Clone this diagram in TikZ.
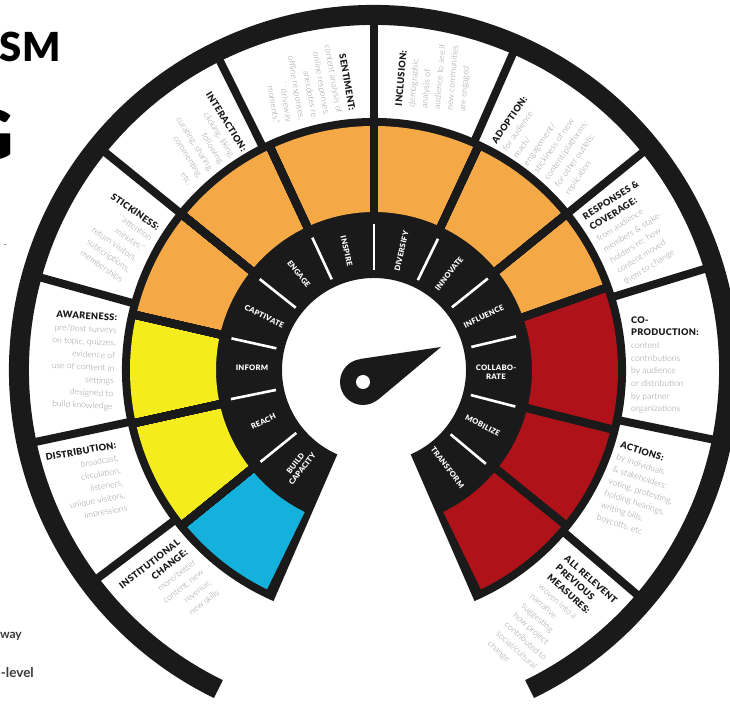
\documentclass[tikz,border=0pt]{standalone}
\usepackage{fontspec}
\setmainfont{Lato}
\IfFontExistsTF{Lato Black}{\newfontfamily\headfont{Lato Black}[LetterSpace=3]}{\newcommand\headfont{\bfseries}}
\IfFontExistsTF{Lato Light}{\newfontfamily\lightfont{Lato Light}}{\newcommand\lightfont{\mdseries}}
\usepackage{tikz}
\usetikzlibrary{calc}
\definecolor{imorange}{HTML}{F4A846}
\definecolor{imyellow}{HTML}{F5EC1E}
\definecolor{imcyan}{HTML}{14B1DC}
\definecolor{imred}{HTML}{B01219}
\definecolor{imblack}{HTML}{1A1A1A}
\definecolor{imgray}{HTML}{969696}
\definecolor{imdark}{HTML}{3A3A3A}
% ring piece: colour, start angle, end angle, inner radius, outer radius
\newcommand\ringsector[5]{\fill[#1] ($(c)+(#2:#4)$) arc[start angle=#2, end angle=#3, radius=#4] -- ($(c)+(#3:#5)$) arc[start angle=#3, end angle=#2, radius=#5] -- cycle;}
\newcommand\mhead[1]{{\color{imblack}\headfont\fontsize{9.2}{12.7}\selectfont #1}}

\begin{document}
\begin{tikzpicture}[
  x=1pt, y=1pt,
  spoke/.style={draw=imblack, line width=8pt},
  tick/.style={draw=white, line width=2.6pt},
  gaugelab/.style={text=white, font=\headfont\fontsize{7.6}{8.6}\selectfont, align=center, inner sep=0pt},
  measure/.style={text=imgray, font=\lightfont\fontsize{8.6}{12.7}\selectfont, inner sep=0pt},
  leftm/.style={measure, align=right},
  rightm/.style={measure, align=left}
]
  \useasboundingbox (0,0) rectangle (730,704);
  \coordinate (c) at (374,334);

  % gauge body and coloured ring
  \ringsector{imblack}{-66.5}{246.5}{92}{252}
  \foreach \a/\b/\col in {219/244/imcyan, 192.5/219/imyellow, 167/192.5/imyellow, 141/167/imorange,
      115/141/imorange, 90/115/imorange, 65/90/imorange, 39/65/imorange, 19.5/39/imorange,
      -14/19.5/imred, -39/-14/imred, -64/-39/imred}
    \ringsector{\col}{\a}{\b}{158}{244}
  \foreach \a in {219,192.5,167,141,115,90,65,39,19.5,-14,-39}
    \draw[spoke] ($(c)+(\a:154)$) -- ($(c)+(\a:250)$);
  \foreach \a in {217,192,164.5,141,116.5,90,66.3,39,17,-11.6,-40.5}
    \draw[spoke] ($(c)+(\a:248)$) -- ($(c)+(\a:348)$);
  \foreach \a in {219,191.5,167.5,141.5,115,90,64,38.8,13.3,-14.5,-40}
    \draw[tick] ($(c)+(\a:100)$) -- ($(c)+(\a:146)$);
  \draw[imblack, line width=20pt] ($(c)+(-64:355)$) arc[start angle=-64, end angle=244, radius=355];

  % inner band
  \foreach \a/\r/\txt [count=\i] in {232/52/{BUILD\\CAPACITY}, 205/25/REACH, 179/-1/INFORM, 154/-26/CAPTIVATE,
      128/-52/ENGAGE, 103/-77/INSPIRE, 77/77/DIVERSIFY, 52/52/INNOVATE, 26/26/INFLUENCE,
      -1/-1/{COLLABO-\\RATE}, -27/-27/MOBILIZE, -53/-53/TRANSFORM}
    \node[gaugelab, rotate=\r] (stage\i) at ($(c)+(\a:122)$) {\txt};

  % needle
  \node[circle, fill=imblack, minimum size=46pt, inner sep=0pt] (pivot) at (363,322) {};
  \coordinate (tip) at (441,357);
  \fill[imblack] (tip) -- (tangent cs:node=pivot,point={(tip)},solution=1) -- (pivot.center)
    -- (tangent cs:node=pivot,point={(tip)},solution=2) -- cycle;
  \fill[white] (pivot) circle (7);

  % outer measures
  \node[leftm, rotate=38] (institutional) at ($(c)+(226.9:300)$) {\mhead{INSTITUTIONAL}\\\mhead{CHANGE:}\\more/better\\content, new\\revenue,\\new skills};
  \node[leftm, rotate=10] (distribution) at ($(c)+(201.5:309)$) {\mhead{DISTRIBUTION:}\\broadcast,\\circulation,\\listeners,\\unique visitors,\\impressions};
  \node[leftm, rotate=-3] (awareness) at ($(c)+(178.2:291)$) {\mhead{AWARENESS:}\\pre/post surveys\\on topic, quizzes,\\evidence of\\use of content in\\settings\\designed to\\build knowledge};
  \node[leftm, rotate=-35] (stickiness) at ($(c)+(152.9:289)$) {\mhead{STICKINESS:}\\``attention\\minutes,''\\return visitors,\\subscriptions,\\memberships};
  \node[leftm, rotate=-58] (interaction) at ($(c)+(127:290)$) {\mhead{INTERACTION:}\\clicking, liking,\\following,\\curating, sharing,\\commenting,\\etc.};
  \node[leftm, rotate=-80] (sentiment) at ($(c)+(102.8:294)$) {\mhead{SENTIMENT:}\\content analysis of\\online responses,\\anecdotes re\\offline responses,\\``driveway\\moments.''};
  \node[rightm, rotate=85] (inclusion) at ($(c)+(78.5:300)$) {\mhead{INCLUSION:}\\demographic\\analysis of\\audience to see if\\new communities\\are engaged};
  \node[rightm, rotate=55] (adoption) at ($(c)+(52.5:290)$) {\mhead{ADOPTION:}\\for audience\\reach/\\engagement/\\stickiness of new\\content/platforms;\\for other outlets;\\replication};
  \node[rightm, rotate=32] (responses) at ($(c)+(28:293)$) {\mhead{RESPONSES \&}\\\mhead{COVERAGE:}\\from audience\\members \& stake-\\holders re: how\\content moved\\them to change};
  \node[rightm] (coproduction) at ($(c)+(1:291)$) {\mhead{CO-}\\\mhead{PRODUCTION:}\\content\\contributions\\by audience\\or distribution\\by partner\\organizations};
  \node[rightm, rotate=-18] (actions) at ($(c)+(-24.5:293)$) {\mhead{ACTIONS:}\\by individuals\\\& stakeholders:\\voting, protesting,\\holding hearings,\\writing bills,\\boycotts, etc};
  \node[rightm, rotate=-42] (previous) at ($(c)+(-54.8:309)$) {\mhead{ALL RELEVENT}\\\mhead{PREVIOUS}\\\mhead{MEASURES:}\\woven into a\\narrative\\suggesting\\how project\\contributed to\\social/cultural\\change};

  % cut-off page text at the left
  \node[anchor=base east, inner sep=0pt, font=\headfont\fontsize{40}{40}\selectfont] (titleA) at (61,642) {SM};
  \node[anchor=base east, inner sep=0pt, font=\headfont\fontsize{68}{68}\selectfont] (titleB) at (14,544) {G};
  \node[anchor=base east, inner sep=0pt, text=imdark, font=\fontsize{8}{8}\selectfont] (noteC) at (7,456) {-};
  \node[anchor=base east, inner sep=0pt, text=imdark, font=\bfseries\fontsize{12}{12}\selectfont] (noteA) at (22,66) {way};
  \node[anchor=base east, inner sep=0pt, text=imdark, font=\bfseries\fontsize{13.5}{13.5}\selectfont] (noteB) at (34,27) {-level};
\end{tikzpicture}
\end{document}
